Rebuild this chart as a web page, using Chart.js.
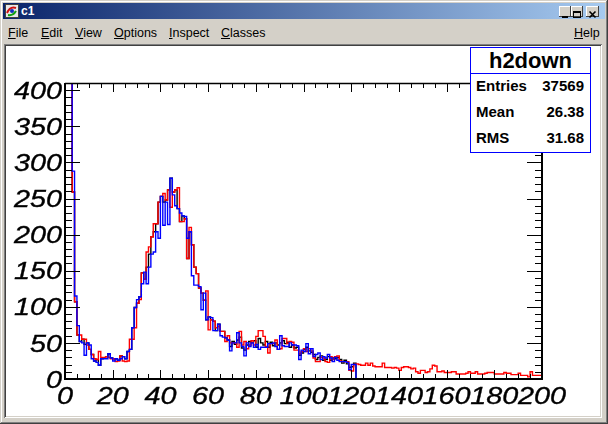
<!DOCTYPE html>
<html>
<head>
<meta charset="utf-8">
<title>c1</title>
<script src="https://cdn.jsdelivr.net/npm/chart.js@4.4.1/dist/chart.umd.min.js"></script>
<style>
  html, body { margin: 0; padding: 0; }
  body { width: 608px; height: 424px; overflow: hidden; background: #d4d0c8; position: relative;
         font-family: "Liberation Sans", Arial, sans-serif; }
  .abs { position: absolute; }
  .winborder { left: 0; top: 0; width: 608px; height: 424px; box-sizing: border-box; pointer-events: none;
    box-shadow: inset -1px -1px #404040, inset 1px 1px #d4d0c8, inset -2px -2px #808080, inset 2px 2px #ffffff; }
  .titlebar { left: 3px; top: 3px; width: 602px; height: 16px; background: linear-gradient(to right, #0a246a, #a6caf0); }
  .titletext { left: 21px; top: 4px; font-weight: bold; font-size: 12px; line-height: 14px; color: #fff; }
  .btn { top: 6px; height: 11px; background: #d4d0c8; box-shadow: inset -1px -1px #404040, inset 1px 1px #ffffff; }
  .menu { top: 26px; font-size: 12.5px; line-height: 14px; color: #000; }
  .sunken { left: 4px; top: 44px; width: 598px; height: 374px; background: #fff;
    box-shadow: inset 1px 1px #808080, inset -1px -1px #ffffff, inset 2px 2px #404040, inset -2px -2px #d4d0c8; }
  #c1 { position: absolute; left: 6px; top: 46px; width: 594px; height: 370px; }
  .stats { left: 470px; top: 47px; width: 121px; height: 106px; box-sizing: border-box; border: 1px solid #0000ff; background: #fff; }
  .stats .head { position: absolute; left: 0; top: 0; width: 119px; height: 25px; border-bottom: 1px solid #0000ff;
    text-align: center; font-weight: bold; font-size: 22px; line-height: 25px; }
  .stats .row { position: absolute; left: 5px; width: 108px; font-weight: bold; font-size: 15px; line-height: 16px; }
  .stats .row span { position: absolute; right: 0; top: 0; }
</style>
</head>
<body>
<div class="abs winborder"></div>
<div class="abs titlebar"></div>
<svg class="abs" style="left:5px;top:4px" width="14" height="14" viewBox="0 0 14 14">
  <rect x="0.5" y="0.5" width="13" height="13" fill="#e8e8e8" stroke="#404040"/>
  <path d="M2 9 Q5 2 11 4" stroke="#d01010" stroke-width="2" fill="none"/>
  <path d="M3 11 Q8 12 11 7" stroke="#10a010" stroke-width="2" fill="none"/>
  <circle cx="7" cy="7" r="2" fill="#1030c0"/>
</svg>
<div class="abs titletext">c1</div>
<div class="abs btn" style="left:559px;width:12px">
  <svg width="12" height="11"><rect x="3" y="7" width="6" height="2" fill="#000"/></svg>
</div>
<div class="abs btn" style="left:571px;width:12px">
  <svg width="12" height="11"><rect x="2.5" y="2.5" width="7" height="6" fill="none" stroke="#000"/><rect x="2" y="2" width="8" height="2" fill="#000"/></svg>
</div>
<div class="abs btn" style="left:586px;width:13px">
  <svg width="13" height="11"><path d="M3.5 2.5 L9.5 8.5 M9.5 2.5 L3.5 8.5" stroke="#000" stroke-width="1.6"/></svg>
</div>
<div class="abs menu" style="left:8px"><u>F</u>ile</div>
<div class="abs menu" style="left:41px"><u>E</u>dit</div>
<div class="abs menu" style="left:75px"><u>V</u>iew</div>
<div class="abs menu" style="left:114px"><u>O</u>ptions</div>
<div class="abs menu" style="left:169px"><u>I</u>nspect</div>
<div class="abs menu" style="left:221px"><u>C</u>lasses</div>
<div class="abs menu" style="left:574px"><u>H</u>elp</div>
<div class="abs sunken"></div>
<canvas id="c1" width="594" height="370"></canvas>
<div class="abs stats" id="stats"><div class="head" id="statsTitle"></div></div>

<script>
// axis ranges and tick labels
const xMin = 0, xMax = 200;
const yMin = 0, yMax = 410;
const xTicks = [0, 20, 40, 60, 80, 100, 120, 140, 160, 180, 200];
const yTicks = [0, 50, 100, 150, 200, 250, 300, 350, 400];

// stats box
const statsTitle = 'h2down';
const statsNames = ['Entries', 'Mean', 'RMS'];
const statsValues = ['37569', '26.38', '31.68'];

// bin contents, bins of width 1 from 0 to 200 (first bins are off scale)
const blackCounts = [
  2000, 1350, 880, 620, 259, 107, 61, 52, 55, 48,
  50, 41, 34, 25, 27, 19, 28, 29, 31, 35,
  29, 28, 28, 26, 32, 31, 28, 38, 41, 71,
  99, 105, 114, 147, 138, 155, 173, 197, 204, 215,
  245, 253, 245, 248, 262, 278, 259, 262, 236, 218,
  226, 222, 167, 204, 186, 155, 146, 126, 119, 109,
  82, 86, 82, 80, 67, 76, 66, 66, 57, 54,
  45, 52, 48, 54, 58, 43, 40, 47, 52, 50,
  53, 44, 56, 50, 47, 52, 44, 51, 46, 50,
  47, 50, 53, 49, 51, 44, 47, 43, 44, 33,
  36, 41, 44, 39, 37, 34, 27, 30, 32, 26,
  27, 31, 26, 29, 28, 30, 27, 22, 26, 21,
  16, 17, 22, 0, 0, 0, 0, 0, 0, 0,
  0, 0, 0, 0, 0, 0, 0, 0, 0, 0,
  0, 0, 0, 0, 0, 0, 0, 0, 0, 0,
  0, 0, 0, 0, 0, 0, 0, 0, 0, 0,
  0, 0, 0, 0, 0, 0, 0, 0, 0, 0,
  0, 0, 0, 0, 0, 0, 0, 0, 0, 0,
  0, 0, 0, 0, 0, 0, 0, 0, 0, 0,
  0, 0, 0, 0, 0, 0, 0, 0, 0, 0
];

const redCounts = [
  1900, 1300, 850, 600, 259, 107, 61, 61, 55, 55,
  47, 41, 34, 28, 27, 38, 30, 29, 31, 30,
  28, 28, 24, 25, 32, 25, 24, 25, 55, 55,
  71, 105, 110, 147, 138, 176, 183, 197, 215, 215,
  245, 253, 257, 248, 262, 238, 259, 262, 265, 218,
  218, 222, 167, 210, 186, 155, 146, 126, 119, 109,
  122, 68, 82, 80, 71, 73, 66, 66, 52, 60,
  50, 50, 50, 44, 66, 47, 52, 42, 47, 53,
  47, 59, 67, 67, 59, 45, 36, 49, 49, 54,
  41, 42, 56, 56, 49, 52, 51, 40, 40, 35,
  38, 42, 38, 42, 39, 29, 24, 24, 30, 29,
  24, 23, 31, 27, 31, 32, 25, 24, 24, 24,
  12, 11, 20, 21, 20, 19, 19, 22, 19, 22,
  18, 17, 17, 17, 22, 16, 16, 16, 15, 16,
  15, 12, 16, 17, 17, 16, 14, 15, 10, 8,
  12, 12, 9, 10, 14, 19, 18, 10, 10, 11,
  9, 9, 9, 10, 10, 7, 7, 7, 7, 8,
  10, 8, 8, 10, 7, 7, 7, 8, 9, 9,
  9, 7, 7, 7, 7, 9, 8, 8, 6, 6,
  6, 8, 5, 5, 5, 3, 10, 5, 5, 5
];

const blueCounts = [
  2100, 1400, 900, 640, 288, 115, 74, 52, 50, 33,
  50, 47, 28, 25, 23, 19, 28, 28, 28, 35,
  29, 25, 28, 26, 28, 31, 28, 38, 41, 71,
  99, 110, 114, 132, 148, 132, 155, 173, 176, 204,
  195, 253, 213, 245, 214, 278, 255, 240, 236, 230,
  226, 225, 195, 204, 143, 130, 130, 128, 96, 119,
  82, 86, 85, 67, 67, 76, 60, 58, 57, 54,
  39, 50, 50, 64, 50, 45, 32, 50, 45, 50,
  44, 48, 41, 44, 44, 44, 49, 49, 50, 45,
  41, 60, 46, 45, 45, 50, 47, 47, 46, 27,
  40, 38, 49, 35, 42, 31, 34, 36, 27, 31,
  29, 34, 29, 24, 30, 26, 24, 24, 24, 23,
  13, 20, 20, 0, 0, 0, 0, 0, 0, 0,
  0, 0, 0, 0, 0, 0, 0, 0, 0, 0,
  0, 0, 0, 0, 0, 0, 0, 0, 0, 0,
  0, 0, 0, 0, 0, 0, 0, 0, 0, 0,
  0, 0, 0, 0, 0, 0, 0, 0, 0, 0,
  0, 0, 0, 0, 0, 0, 0, 0, 0, 0,
  0, 0, 0, 0, 0, 0, 0, 0, 0, 0,
  0, 0, 0, 0, 0, 0, 0, 0, 0, 0
];

// stats box text
document.getElementById('statsTitle').textContent = statsTitle;
statsNames.forEach((name, i) => {
  const row = document.createElement('div');
  row.className = 'row';
  row.style.top = (30 + i * 25.8) + 'px';
  row.textContent = name;
  const val = document.createElement('span');
  val.textContent = statsValues[i];
  row.appendChild(val);
  document.getElementById('stats').appendChild(row);
});

// histogram as step line: one point per bin low edge plus the last upper edge
function toSteps(counts) {
  const binW = (xMax - xMin) / counts.length;
  const pts = counts.map((v, i) => ({ x: xMin + i * binW, y: v }));
  pts.push({ x: xMax, y: counts[counts.length - 1] });
  return pts;
}

// ROOT style frame: ticks inside on all four sides, big italic labels
const rootFrame = {
  id: 'rootFrame',
  afterDatasetsDraw(chart) {
    const { ctx, chartArea: a } = chart;
    const x = chart.scales.x, y = chart.scales.y;
    const xStep = (xTicks[1] - xTicks[0]) / 4;
    const yStep = (yTicks[1] - yTicks[0]) / 5;
    ctx.save();
    ctx.strokeStyle = '#000';
    ctx.lineWidth = 1;
    ctx.beginPath();
    for (let v = xMin; v <= xMax + 1e-6; v += xStep) {
      const px = Math.round(x.getPixelForValue(v)) + 0.5;
      const len = xTicks.includes(v) ? 9 : 5;
      ctx.moveTo(px, a.bottom); ctx.lineTo(px, a.bottom - len);
      ctx.moveTo(px, a.top); ctx.lineTo(px, a.top + len);
    }
    for (let v = yMin; v <= yMax + 1e-6; v += yStep) {
      const py = Math.round(y.getPixelForValue(v)) + 0.5;
      const len = yTicks.includes(v) ? 15 : 7;
      ctx.moveTo(a.left, py); ctx.lineTo(a.left + len, py);
      ctx.moveTo(a.right, py); ctx.lineTo(a.right - len, py);
    }
    ctx.stroke();

    // frame
    ctx.lineWidth = 2;
    ctx.beginPath();
    ctx.moveTo(a.left, a.top); ctx.lineTo(a.left, a.bottom);
    ctx.lineTo(a.right, a.bottom); ctx.lineTo(a.right, a.top);
    ctx.stroke();
    ctx.lineWidth = 1.3;
    ctx.beginPath();
    ctx.moveTo(a.left, a.top + 0.5); ctx.lineTo(a.right, a.top + 0.5);
    ctx.stroke();

    // labels, slightly emboldened like the X11 font
    ctx.fillStyle = '#000';
    ctx.lineWidth = 0.35;
    ctx.font = 'italic 24px "Liberation Sans", Arial, sans-serif';
    ctx.textBaseline = 'alphabetic';
    const label = (text, px, py, align) => {
      ctx.save();
      ctx.translate(px, py);
      ctx.scale(1.2, 1);
      ctx.textAlign = align;
      ctx.fillText(text, 0, 0);
      ctx.strokeText(text, 0, 0);
      ctx.restore();
    };
    xTicks.forEach(v => label(String(v), x.getPixelForValue(v), a.bottom + 24.5, 'center'));
    yTicks.forEach(v => label(String(v), a.left - 3, y.getPixelForValue(v) + 8.6, 'right'));
    ctx.restore();
  }
};

new Chart(document.getElementById('c1'), {
  type: 'line',
  data: {
    datasets: [
      { label: 'blue', data: toSteps(blueCounts), borderColor: '#0000ff', order: 1 },
      { label: 'red', data: toSteps(redCounts), borderColor: '#ff0000', order: 2 },
      { label: 'black', data: toSteps(blackCounts), borderColor: '#000000', order: 3 }
    ].map(d => Object.assign(d, { stepped: 'after', borderWidth: 1.4, pointRadius: 0, fill: false, tension: 0 }))
  },
  options: {
    responsive: false,
    animation: false,
    devicePixelRatio: 1,
    layout: { padding: { left: 59, top: 37, right: 58, bottom: 37 } },
    scales: {
      x: { type: 'linear', min: xMin, max: xMax, display: false },
      y: { type: 'linear', min: yMin, max: yMax, display: false }
    },
    plugins: { legend: { display: false }, tooltip: { enabled: false } }
  },
  plugins: [rootFrame]
});
</script>
</body>
</html>
